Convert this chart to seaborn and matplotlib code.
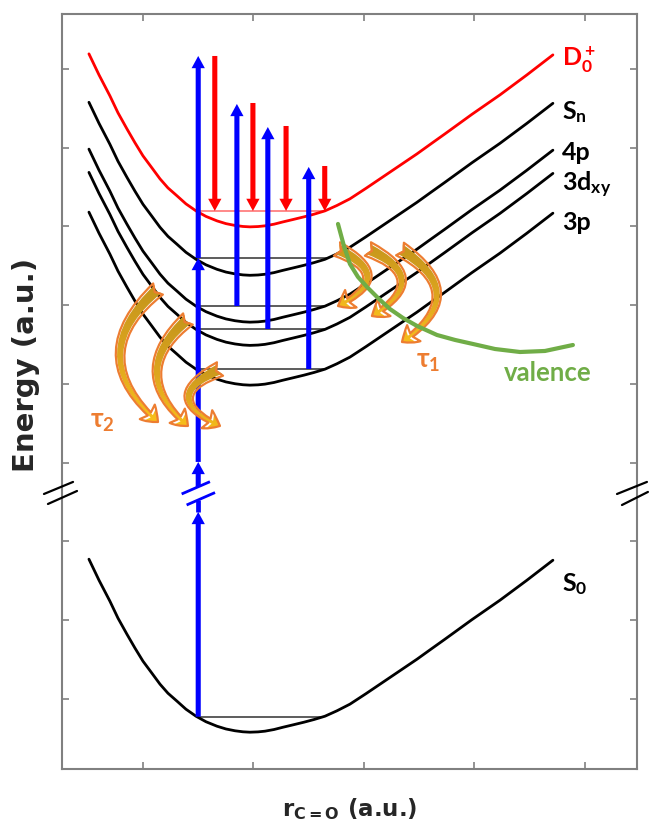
import numpy as np
import pandas as pd
import matplotlib
matplotlib.use("Agg")
import matplotlib.pyplot as plt
import seaborn as sns
from matplotlib.patches import FancyArrowPatch
from matplotlib.colors import LinearSegmentedColormap

# ---------------- data ----------------
# common potential-curve shape: r (a.u.) and energy above the minimum
shape_r = [0.511, 0.602, 0.701, 0.774, 0.855, 0.928, 1.000, 1.081, 1.154, 1.226,
           1.308, 1.389, 1.480, 1.570, 1.670, 1.751, 1.833, 1.905, 1.968, 2.041,
           2.104, 2.186, 2.267, 2.357, 2.457, 2.548, 2.647, 2.756, 2.873, 3.018,
           3.172, 3.326, 3.480, 3.606, 3.733, 3.977, 4.231, 4.475, 4.710]
shape_dE = [2.197, 1.930, 1.663, 1.448, 1.244, 1.067, 0.902, 0.749, 0.610, 0.495,
            0.394, 0.292, 0.203, 0.133, 0.076, 0.041, 0.018, 0.005, 0.000, 0.004,
            0.013, 0.034, 0.063, 0.093, 0.127, 0.161, 0.203, 0.272, 0.356, 0.489,
            0.635, 0.781, 0.927, 1.054, 1.181, 1.429, 1.676, 1.930, 2.184]
i_min = 18

states = ["S0", "3p", "3dxy", "4p", "Sn", "D0+"]
state_min = [0.578, 4.985, 5.49, 5.785, 6.38, 6.995]
state_level = [0.775, 5.19, 5.698, 5.99, 6.60, 7.197]
state_colors = ["#000000", "#000000", "#000000", "#000000", "#000000", "#FF0000"]
level_colors = ["#303030", "#303030", "#303030", "#303030", "#303030", "#FF6A6A"]
state_labels = ["S$_0$", "3p", "3d$_{xy}$", "4p", "S$_n$", "D$_0^+$"]
label_E = [2.47, 7.06, 7.54, 7.95, 8.47, 9.13]
label_r = 4.79

valence_r = [2.765, 2.819, 2.873, 2.946, 3.027, 3.127, 3.235, 3.353, 3.480,
             3.661, 3.824, 3.986, 4.186, 4.412, 4.638, 4.891]
valence_E = [7.032, 6.752, 6.524, 6.359, 6.232, 6.092, 5.952, 5.838, 5.737,
             5.622, 5.559, 5.508, 5.444, 5.406, 5.419, 5.495]

# upward (blue) photon arrows
blue_r = [1.50, 1.50, 1.50, 1.50, 1.85, 2.13, 2.50]
blue_from = [0.775, 3.693, 4.01, 6.60, 5.99, 5.698, 5.19]
blue_to = [3.375, 4.01, 6.60, 9.165, 8.556, 8.263, 7.756]
blue_shaft_r = [1.50, 1.50]
blue_shaft_E = [3.375, 3.526]
# "//" marks on the broken blue arrow
bslash_r = [[1.350, 1.606], [1.395, 1.652]]
bslash_E = [[3.603, 3.759], [3.463, 3.621]]

# downward (red) photoelectron arrows
red_r = [1.65, 1.995, 2.295, 2.645]
red_from = [9.165, 8.568, 8.276, 7.768]
red_to = [7.197, 7.197, 7.197, 7.197]

# curved relaxation arrows (tau2 on the left, tau1 on the right)
tau_tail_r = [1.136, 1.407, 1.697, 2.756, 3.036, 3.326]
tau_tail_E = [6.206, 5.825, 5.190, 6.714, 6.714, 6.714]
tau_head_r = [1.136, 1.407, 1.697, 2.765, 3.072, 3.344]
tau_head_E = [4.517, 4.467, 4.467, 5.990, 5.863, 5.533]
tau_rad = [0.57, 0.58, 1.1, -1.05, -0.95, -0.77]
tau_text = ["τ$_2$", "τ$_1$"]
tau_text_r = [0.52, 3.47]
tau_text_E = [4.53, 5.29]

# axis-break marks on both frames
break_r = [[[0.104, 0.367], [0.140, 0.403]], [[5.290, 5.561], [5.335, 5.570]]]
break_E = [[[3.603, 3.756], [3.476, 3.641]], [[3.603, 3.756], [3.463, 3.629]]]

xticks = [1, 2, 3, 4, 5]
yticks = [1, 2, 3, 4, 5, 6, 7, 8, 9]

BLUE = "#0000FF"
RED = "#FF0000"
GREEN = "#70AD47"
ORANGE = "#ED7D31"

# ---------------- style ----------------
sns.set_style("white")
plt.rcParams["font.family"] = ["Lato", "DejaVu Sans"]
plt.rcParams["mathtext.fontset"] = "custom"
plt.rcParams["mathtext.rm"] = "Lato"
plt.rcParams["mathtext.bf"] = "Lato:bold"
plt.rcParams["mathtext.default"] = "bf"

fig = plt.figure(figsize=(6.49, 8.29), dpi=100)
ax = fig.add_axes([0.0955, 0.0712, 0.886, 0.9107])

# ---------------- potential curves ----------------
frames = []
for s, m in zip(states, state_min):
    frames.append(pd.DataFrame({"r": shape_r,
                                "E": np.add(shape_dE, m),
                                "state": s}))
df = pd.concat(frames, ignore_index=True)
sns.lineplot(data=df, x="r", y="E", hue="state",
             palette=dict(zip(states, state_colors)),
             estimator=None, sort=False, legend=False,
             linewidth=2.0, ax=ax, zorder=3)

# vibrational level lines
rl = np.array(shape_r[:i_min + 1])[::-1]
dl = np.array(shape_dE[:i_min + 1])[::-1]
rr = np.array(shape_r[i_min:])
dr = np.array(shape_dE[i_min:])
for m, lev, c in zip(state_min, state_level, level_colors):
    d = lev - m
    x0 = np.interp(d, dl, rl)
    x1 = np.interp(d, dr, rr)
    ax.plot([x0, x1], [lev, lev], color=c, lw=1.1, zorder=2.5,
            solid_capstyle="butt")

# valence curve
sns.lineplot(x=valence_r, y=valence_E, color=GREEN, linewidth=3.0,
             estimator=None, sort=False, ax=ax, zorder=7)

# ---------------- photon arrows ----------------
aw, hw, hl = 0.046, 0.120, 0.155
for x, y0, y1 in zip(blue_r, blue_from, blue_to):
    ax.arrow(x, y0, 0, y1 - y0, width=aw, head_width=hw, head_length=hl,
             length_includes_head=True, fc=BLUE, ec="none", lw=0, zorder=5)
ax.plot(blue_shaft_r, blue_shaft_E, color=BLUE, lw=3.4,
        solid_capstyle="butt", zorder=5)
for xs, ys in zip(bslash_r, bslash_E):
    ax.plot(xs, ys, color=BLUE, lw=2.0, zorder=5, solid_capstyle="butt")

for x, y0, y1 in zip(red_r, red_from, red_to):
    ax.arrow(x, y0, 0, y1 - y0, width=aw, head_width=hw, head_length=hl,
             length_includes_head=True, fc=RED, ec="none", lw=0, zorder=5)

# ---------------- curved relaxation arrows ----------------
cmap = LinearSegmentedColormap.from_list("tau", ["#BF921A", "#DDA51F", "#FFC61A"])
grad = np.linspace(0, 1, 256).reshape(-1, 1)
for ta, tb, ha, hb, rad in zip(tau_tail_r, tau_tail_E, tau_head_r, tau_head_E, tau_rad):
    arr = FancyArrowPatch((ta, tb), (ha, hb),
                          connectionstyle=f"arc3,rad={rad}",
                          arrowstyle="fancy,head_length=0.85,head_width=1.2,tail_width=0.85",
                          mutation_scale=12.5, shrinkA=0, shrinkB=0,
                          fc="none", ec=ORANGE, lw=1.6, zorder=6.2)
    ax.add_patch(arr)
    im = ax.imshow(grad, cmap=cmap, aspect="auto", origin="upper",
                   extent=[min(ta, ha) - 0.6, max(ta, ha) + 0.6,
                           min(tb, hb) - 0.2, max(tb, hb) + 0.2],
                   zorder=6.1, interpolation="bilinear")
    im.set_clip_path(arr)

for t, x, y in zip(tau_text, tau_text_r, tau_text_E):
    ax.text(x, y, t, color=ORANGE, fontsize=19, fontweight="bold",
            ha="left", va="center", zorder=8)

# ---------------- state labels ----------------
for lab, y, c in zip(state_labels, label_E, state_colors):
    ax.text(label_r, y, lab, color=c, fontsize=18, fontweight="bold",
            ha="left", va="center", zorder=8)
ax.text(4.266, 5.15, "valence", color=GREEN, fontsize=18.5, fontweight="bold",
        ha="left", va="center", zorder=8)

# ---------------- axis breaks ----------------
for side_r, side_E in zip(break_r, break_E):
    for xs, ys in zip(side_r, side_E):
        ax.plot(xs, ys, color="black", lw=1.6, clip_on=False, zorder=9)

# ---------------- axes ----------------
ax.set_xlim(0.267, 5.471)
ax.set_ylim(0.111, 9.698)
ax.set_xticks(xticks)
ax.set_yticks(yticks)
ax.tick_params(direction="in", length=5, width=1.2, color="#808080",
               top=True, right=True, bottom=True, left=True,
               labelbottom=False, labelleft=False)
for sp in ax.spines.values():
    sp.set_color("#808080")
    sp.set_linewidth(1.5)
ax.set_xlabel("")
ax.set_ylabel("")

fig.text(0.0408, 0.5597, "Energy (a.u.)", rotation=90, fontsize=21,
         fontweight="bold", family="DejaVu Sans", ha="center", va="center")
fig.text(0.538, 0.0157, "r$_{\\mathbf{C=O}}$ (a.u.)", fontsize=16.5,
         fontweight="bold", family="DejaVu Sans", math_fontfamily="dejavusans",
         ha="center", va="baseline")

fig.savefig("out.png", dpi=100)
